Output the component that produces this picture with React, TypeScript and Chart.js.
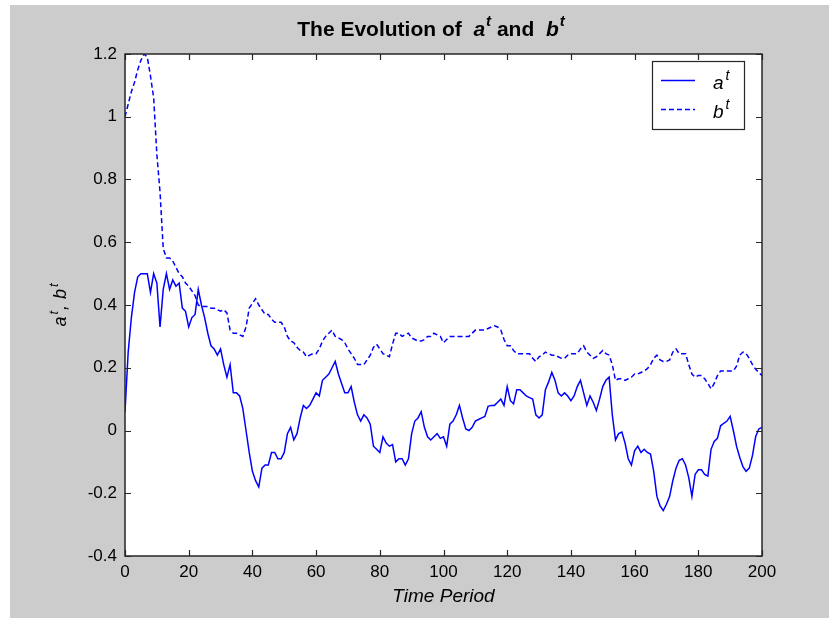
import React, { useEffect, useRef } from 'react';
import { Chart, registerables } from 'chart.js';

Chart.register(...registerables);

const W = 829;
const H = 618;
const FONT = "'Liberation Sans', Arial, Helvetica, sans-serif";

const xTicks = [0, 20, 40, 60, 80, 100, 120, 140, 160, 180, 200];
const yTicks = [-0.4, -0.2, 0, 0.2, 0.4, 0.6, 0.8, 1, 1.2];
const xTitle = 'Time Period';
const titleLead = 'The Evolution of  ';
const titleJoin = ' and  ';
const seriesNames = ['a', 'b'];
const seriesSup = 't';

// a^t, t = 0..200
const aValues = [
  0.06, 0.25, 0.36, 0.44, 0.49, 0.50, 0.50, 0.50, 0.44, 0.50,
  0.47, 0.33, 0.45, 0.50, 0.45, 0.48, 0.46, 0.47, 0.39, 0.38,
  0.33, 0.36, 0.37, 0.45, 0.40, 0.36, 0.31, 0.27, 0.26, 0.24,
  0.26, 0.21, 0.17, 0.21, 0.12, 0.12, 0.11, 0.07, 0.00, -0.07,
  -0.13, -0.16, -0.18, -0.12, -0.11, -0.11, -0.07, -0.07, -0.09, -0.09,
  -0.07, -0.01, 0.01, -0.03, -0.01, 0.04, 0.08, 0.07, 0.08, 0.10,
  0.12, 0.11, 0.16, 0.17, 0.18, 0.20, 0.22, 0.18, 0.15, 0.12,
  0.12, 0.14, 0.09, 0.05, 0.03, 0.05, 0.04, 0.02, -0.05, -0.06,
  -0.07, -0.02, -0.04, -0.05, -0.045, -0.10, -0.09, -0.09, -0.11, -0.09,
  -0.01, 0.03, 0.04, 0.06, 0.01, -0.02, -0.03, -0.02, -0.01, -0.025,
  -0.02, -0.05, 0.02, 0.03, 0.05, 0.08, 0.04, 0.005, 0.00, 0.01,
  0.03, 0.035, 0.04, 0.045, 0.077, 0.08, 0.08, 0.09, 0.10, 0.08,
  0.14, 0.095, 0.085, 0.13, 0.13, 0.12, 0.11, 0.105, 0.10, 0.05,
  0.04, 0.05, 0.13, 0.155, 0.185, 0.16, 0.12, 0.11, 0.12, 0.11,
  0.095, 0.11, 0.14, 0.16, 0.12, 0.08, 0.11, 0.09, 0.064, 0.10,
  0.14, 0.16, 0.17, 0.05, -0.03, -0.01, -0.005, -0.04, -0.09, -0.11,
  -0.065, -0.05, -0.07, -0.06, -0.07, -0.075, -0.13, -0.21, -0.24, -0.255,
  -0.235, -0.21, -0.16, -0.12, -0.095, -0.09, -0.11, -0.15, -0.21, -0.14,
  -0.125, -0.125, -0.14, -0.145, -0.06, -0.035, -0.025, 0.015, 0.023, 0.03,
  0.045, 0.0, -0.05, -0.085, -0.115, -0.13, -0.12, -0.08, -0.02, 0.005,
  0.01,
];

// b^t, t = 0..200
const bValues = [
  1.00, 1.04, 1.08, 1.11, 1.15, 1.18, 1.20, 1.19, 1.13, 1.06,
  0.88, 0.76, 0.58, 0.55, 0.55, 0.54, 0.52, 0.50, 0.49, 0.47,
  0.46, 0.445, 0.43, 0.40, 0.395, 0.395, 0.395, 0.39, 0.39, 0.385,
  0.38, 0.385, 0.375, 0.32, 0.31, 0.31, 0.305, 0.30, 0.33, 0.39,
  0.405, 0.42, 0.40, 0.385, 0.37, 0.37, 0.355, 0.345, 0.345, 0.345,
  0.33, 0.30, 0.285, 0.28, 0.265, 0.255, 0.25, 0.235, 0.24, 0.245,
  0.245, 0.26, 0.285, 0.30, 0.31, 0.32, 0.30, 0.295, 0.29, 0.28,
  0.26, 0.245, 0.23, 0.21, 0.21, 0.21, 0.225, 0.24, 0.265, 0.275,
  0.26, 0.245, 0.24, 0.235, 0.275, 0.31, 0.31, 0.30, 0.305, 0.31,
  0.295, 0.29, 0.285, 0.285, 0.29, 0.30, 0.30, 0.31, 0.305, 0.30,
  0.28, 0.29, 0.30, 0.30, 0.30, 0.30, 0.30, 0.30, 0.30, 0.31,
  0.32, 0.32, 0.32, 0.32, 0.325, 0.33, 0.334, 0.33, 0.32, 0.29,
  0.27, 0.27, 0.255, 0.245, 0.245, 0.245, 0.245, 0.245, 0.23, 0.22,
  0.235, 0.24, 0.25, 0.245, 0.24, 0.24, 0.235, 0.23, 0.23, 0.24,
  0.245, 0.245, 0.245, 0.26, 0.27, 0.25, 0.24, 0.23, 0.235, 0.245,
  0.255, 0.245, 0.24, 0.21, 0.16, 0.165, 0.165, 0.16, 0.165, 0.17,
  0.18, 0.18, 0.185, 0.19, 0.197, 0.21, 0.23, 0.24, 0.225, 0.22,
  0.22, 0.225, 0.25, 0.26, 0.245, 0.245, 0.245, 0.21, 0.18, 0.17,
  0.175, 0.175, 0.165, 0.15, 0.133, 0.15, 0.175, 0.19, 0.19, 0.19,
  0.19, 0.19, 0.205, 0.24, 0.25, 0.245, 0.23, 0.21, 0.195, 0.185,
  0.175,
];

const BLUE = '#0000ff';
const DASH = [5, 3];

type Part = { text: string; font: string; dy?: number; dx?: number };

function drawParts(ctx: CanvasRenderingContext2D, parts: Part[], x: number, y: number) {
  let cx = x;
  for (const p of parts) {
    ctx.font = p.font;
    cx += p.dx || 0;
    ctx.fillText(p.text, cx, y + (p.dy || 0));
    cx += ctx.measureText(p.text).width;
  }
  return cx - x;
}

function measureParts(ctx: CanvasRenderingContext2D, parts: Part[]) {
  let w = 0;
  for (const p of parts) {
    ctx.font = p.font;
    w += (p.dx || 0) + ctx.measureText(p.text).width;
  }
  return w;
}

const decorPlugin = {
  id: 'decor',
  beforeDraw(chart: any) {
    const ctx = chart.ctx as CanvasRenderingContext2D;
    const { left, top, right, bottom } = chart.chartArea;
    ctx.save();
    ctx.fillStyle = '#ffffff';
    ctx.fillRect(0, 0, W, H);
    ctx.fillStyle = '#cccccc';
    ctx.fillRect(10, 5, W - 10, H - 5);
    ctx.fillStyle = '#ffffff';
    ctx.fillRect(left, top, right - left, bottom - top);
    ctx.restore();
  },
  afterDraw(chart: any) {
    const ctx = chart.ctx as CanvasRenderingContext2D;
    const { left, top, right, bottom } = chart.chartArea;
    const xs = chart.scales.x;
    const ys = chart.scales.y;
    ctx.save();
    // axes box
    ctx.strokeStyle = '#262626';
    ctx.lineWidth = 1.5;
    ctx.strokeRect(left, top, right - left, bottom - top);
    // inward ticks
    ctx.lineWidth = 1.2;
    ctx.beginPath();
    const tl = 6;
    for (const v of xTicks) {
      const px = Math.round(xs.getPixelForValue(v)) + 0.5;
      ctx.moveTo(px, bottom);
      ctx.lineTo(px, bottom - tl);
      ctx.moveTo(px, top);
      ctx.lineTo(px, top + tl);
    }
    for (const v of yTicks) {
      const py = Math.round(ys.getPixelForValue(v)) + 0.5;
      ctx.moveTo(left, py);
      ctx.lineTo(left + tl, py);
      ctx.moveTo(right, py);
      ctx.lineTo(right - tl, py);
    }
    ctx.stroke();

    // title
    ctx.fillStyle = '#000';
    ctx.textBaseline = 'alphabetic';
    ctx.textAlign = 'left';
    const tb = `bold 21px ${FONT}`;
    const tbi = `italic bold 21px ${FONT}`;
    const tsup = `italic bold 15px ${FONT}`;
    const titleParts: Part[] = [
      { text: titleLead, font: tb },
      { text: seriesNames[0], font: tbi },
      { text: seriesSup, font: tsup, dy: -10, dx: 1 },
      { text: titleJoin, font: tb },
      { text: seriesNames[1], font: tbi },
      { text: seriesSup, font: tsup, dy: -10, dx: 1 },
    ];
    const tw = measureParts(ctx, titleParts);
    drawParts(ctx, titleParts, 431 - tw / 2, 36);

    // y-axis label
    const li = `italic 18px ${FONT}`;
    const ls = `italic 13px ${FONT}`;
    const yParts: Part[] = [
      { text: seriesNames[0], font: li },
      { text: seriesSup, font: ls, dy: -8, dx: 2 },
      { text: ',', font: li, dx: 1 },
      { text: seriesNames[1], font: li, dx: 6 },
      { text: seriesSup, font: ls, dy: -8, dx: 2 },
    ];
    const yw = measureParts(ctx, yParts);
    ctx.save();
    ctx.translate(66, (top + bottom) / 2);
    ctx.rotate(-Math.PI / 2);
    drawParts(ctx, yParts, -yw / 2, 0);
    ctx.restore();

    // legend
    const bx = 652, by = 61, bw = 92, bh = 68;
    ctx.fillStyle = '#ffffff';
    ctx.fillRect(bx, by, bw, bh);
    ctx.strokeStyle = '#262626';
    ctx.lineWidth = 1.2;
    ctx.strokeRect(bx + 0.5, by + 0.5, bw, bh);
    const rows = [80, 109];
    seriesNames.forEach((name, i) => {
      const ry = rows[i];
      ctx.strokeStyle = BLUE;
      ctx.lineWidth = 1.5;
      ctx.setLineDash(i === 0 ? [] : DASH);
      ctx.beginPath();
      ctx.moveTo(661, ry + 0.5);
      ctx.lineTo(695, ry + 0.5);
      ctx.stroke();
      ctx.setLineDash([]);
      ctx.fillStyle = '#000';
      drawParts(ctx, [
        { text: name, font: `italic 19px ${FONT}` },
        { text: seriesSup, font: `italic 14px ${FONT}`, dy: -9, dx: 2 },
      ], 713, ry + 9);
    });
    ctx.restore();
  },
};

export default function App() {
  const ref = useRef<HTMLCanvasElement | null>(null);
  useEffect(() => {
    if (!ref.current) return;
    const chart = new Chart(ref.current, {
      type: 'line',
      data: {
        datasets: [
          {
            label: 'a^t',
            data: aValues.map((v, i) => ({ x: i, y: v })),
            borderColor: BLUE,
            borderWidth: 1.5,
            pointRadius: 0,
            tension: 0,
            fill: false,
          },
          {
            label: 'b^t',
            data: bValues.map((v, i) => ({ x: i, y: v })),
            borderColor: BLUE,
            borderWidth: 1.5,
            borderDash: DASH,
            pointRadius: 0,
            tension: 0,
            fill: false,
          },
        ],
      },
      options: {
        responsive: false,
        animation: false,
        events: [],
        layout: { padding: { top: 54, right: 67, bottom: 0, left: 0 } },
        plugins: {
          legend: { display: false },
          title: { display: false },
          tooltip: { enabled: false },
        },
        scales: {
          x: {
            type: 'linear',
            min: 0,
            max: 200,
            afterBuildTicks: (s: any) => {
              s.ticks = xTicks.map((v) => ({ value: v }));
            },
            afterFit: (s: any) => {
              s.height = 62;
            },
            grid: { display: false, drawTicks: false },
            border: { display: false },
            ticks: {
              padding: 6,
              color: '#000',
              maxRotation: 0,
              autoSkip: false,
              font: { family: FONT, size: 17 },
            },
            title: {
              display: true,
              text: xTitle,
              color: '#000',
              font: { family: FONT, size: 19, style: 'italic' },
              padding: { top: 0, bottom: 10 },
            },
          },
          y: {
            type: 'linear',
            min: -0.4,
            max: 1.2,
            afterBuildTicks: (s: any) => {
              s.ticks = yTicks.map((v) => ({ value: v }));
            },
            afterFit: (s: any) => {
              s.width = 125;
            },
            grid: { display: false, drawTicks: false },
            border: { display: false },
            ticks: {
              padding: 8,
              color: '#000',
              autoSkip: false,
              font: { family: FONT, size: 17 },
              callback: (v: any) => String(+Number(v).toFixed(1)),
            },
          },
        },
      },
      plugins: [decorPlugin],
    });
    return () => chart.destroy();
  }, []);
  return (
    <div style={{ position: 'fixed', left: 0, top: 0, width: W, height: H }}>
      <canvas ref={ref} width={W} height={H} style={{ display: 'block', width: W, height: H }} />
    </div>
  );
}
